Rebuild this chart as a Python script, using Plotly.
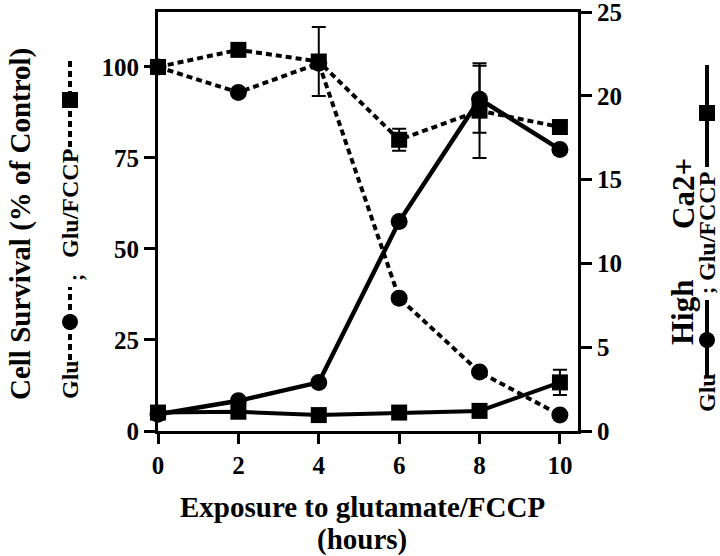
import plotly.graph_objects as go

hours = [0, 2, 4, 6, 8, 10]

# Cell survival (% of control), left axis
surv_glu = [100, 93, 101, 36.5, 16.2, 4.4]
surv_glu_fccp = [100, 104.7, 101.5, 80, 88, 83.5]
surv_glu_fccp_err = [0, 0, 9.5, 3, 13, 0]

# High Ca2+, right axis
ca_glu = [1.0, 1.8, 2.9, 12.5, 19.8, 16.8]
ca_glu_err = [0, 0, 0, 0, 2.0, 0]
ca_glu_fccp = [1.1, 1.15, 0.95, 1.1, 1.2, 2.9]
ca_glu_fccp_err = [0, 0, 0, 0, 0, 0.75]

x_ticks = [0, 2, 4, 6, 8, 10]
left_ticks = [0, 25, 50, 75, 100]
right_ticks = [0, 5, 10, 15, 20, 25]

FONT = "Liberation Serif"
BLACK = "black"
DOT = "6px,4px"

# plot area in pixels
L, R, T, B = 158, 578, 12, 431
W, H = 720, 556

def px(xp):
    return (xp - L) / (R - L)

def py(yp):
    return (B - yp) / (B - T)

fig = go.Figure()

def err(vals):
    return dict(type="data", array=vals, visible=True, color=BLACK,
                thickness=2, width=7)

fig.add_trace(go.Scatter(
    x=hours, y=surv_glu, mode="lines+markers", yaxis="y",
    line=dict(color=BLACK, width=4, dash=DOT),
    marker=dict(symbol="circle", size=17, color=BLACK),
    cliponaxis=False, showlegend=False))
fig.add_trace(go.Scatter(
    x=hours, y=surv_glu_fccp, mode="lines+markers", yaxis="y",
    line=dict(color=BLACK, width=4, dash=DOT),
    marker=dict(symbol="square", size=16, color=BLACK),
    error_y=err(surv_glu_fccp_err),
    cliponaxis=False, showlegend=False))
fig.add_trace(go.Scatter(
    x=hours, y=ca_glu, mode="lines+markers", yaxis="y2",
    line=dict(color=BLACK, width=4.5),
    marker=dict(symbol="circle", size=17, color=BLACK),
    error_y=err(ca_glu_err),
    cliponaxis=False, showlegend=False))
fig.add_trace(go.Scatter(
    x=hours, y=ca_glu_fccp, mode="lines+markers", yaxis="y2",
    line=dict(color=BLACK, width=4),
    marker=dict(symbol="square", size=16, color=BLACK),
    error_y=err(ca_glu_fccp_err),
    cliponaxis=False, showlegend=False))

tickfont = dict(family=FONT, size=25, color=BLACK, weight="bold")

fig.update_layout(
    width=W, height=H,
    margin=dict(l=L, r=W - R, t=T, b=H - B),
    paper_bgcolor="white", plot_bgcolor="white",
    xaxis=dict(range=[0, 10.45], tickvals=x_ticks, ticks="outside",
               ticklen=10, tickwidth=2.5, tickcolor=BLACK,
               showline=True, linewidth=3, linecolor=BLACK, mirror=True,
               showgrid=False, zeroline=False, tickfont=tickfont,
               automargin=False, ticklabeloverflow="allow"),
    yaxis=dict(range=[0, 115.1], tickvals=left_ticks, ticks="outside",
               ticklen=11, tickwidth=2.5, tickcolor=BLACK,
               showline=True, linewidth=3, linecolor=BLACK,
               showgrid=False, zeroline=False, tickfont=tickfont,
               automargin=False, ticklabeloverflow="allow"),
    yaxis2=dict(range=[0, 25], tickvals=right_ticks, ticks="outside",
                ticklen=11, tickwidth=2.5, tickcolor=BLACK,
                overlaying="y", side="right",
                showline=True, linewidth=3, linecolor=BLACK,
                showgrid=False, zeroline=False, tickfont=tickfont,
                automargin=False, ticklabeloverflow="allow"),
)

def ann(text, xp, yp, size, angle=0):
    fig.add_annotation(text=text, x=px(xp), y=py(yp), xref="paper",
                       yref="paper", showarrow=False, textangle=angle,
                       xanchor="center", yanchor="middle",
                       font=dict(family=FONT, size=size, color=BLACK,
                                 weight="bold"))

def vline(xp, y0p, y1p, dash):
    fig.add_shape(type="line", xref="paper", yref="paper",
                  x0=px(xp), x1=px(xp), y0=py(y0p), y1=py(y1p),
                  line=dict(color=BLACK, width=4, dash=dash))

def mark(kind, xp, yp, r):
    fig.add_shape(type=kind, xref="paper", yref="paper",
                  x0=px(xp - r), x1=px(xp + r), y0=py(yp + r), y1=py(yp - r),
                  fillcolor=BLACK, line=dict(color=BLACK, width=0))

# axis titles
ann("Exposure to glutamate/FCCP", 362, 507, 29)
ann("(hours)", 362, 539, 29)
ann("Cell Survival (% of Control)", 20, 224, 29, -90)
ann("High", 683, 313, 31, -90)
ann("Ca2+", 683, 194, 31, -90)

# left key: Glu ····●····; Glu/FCCP ····■····
ann("Glu", 70, 380, 24, -90)
vline(70, 360, 287, DOT)
mark("circle", 70, 322, 8)
ann(";", 75, 278, 22, -90)
ann("Glu/FCCP", 70, 204, 24, -90)
vline(70, 147, 58, DOT)
mark("rect", 70, 100, 8)

# right key: Glu ──●──; Glu/FCCP ──■──
ann("Glu", 707, 393, 24, -90)
vline(707, 377, 300, "solid")
mark("circle", 707, 340, 8)
ann(";", 706, 291, 22, -90)
ann("Glu/FCCP", 707, 227, 24, -90)
vline(707, 167, 65, "solid")
mark("rect", 707, 113, 8)

fig.write_html("out.html", config={"displayModeBar": False},
               post_script="document.body.style.margin='0';")
